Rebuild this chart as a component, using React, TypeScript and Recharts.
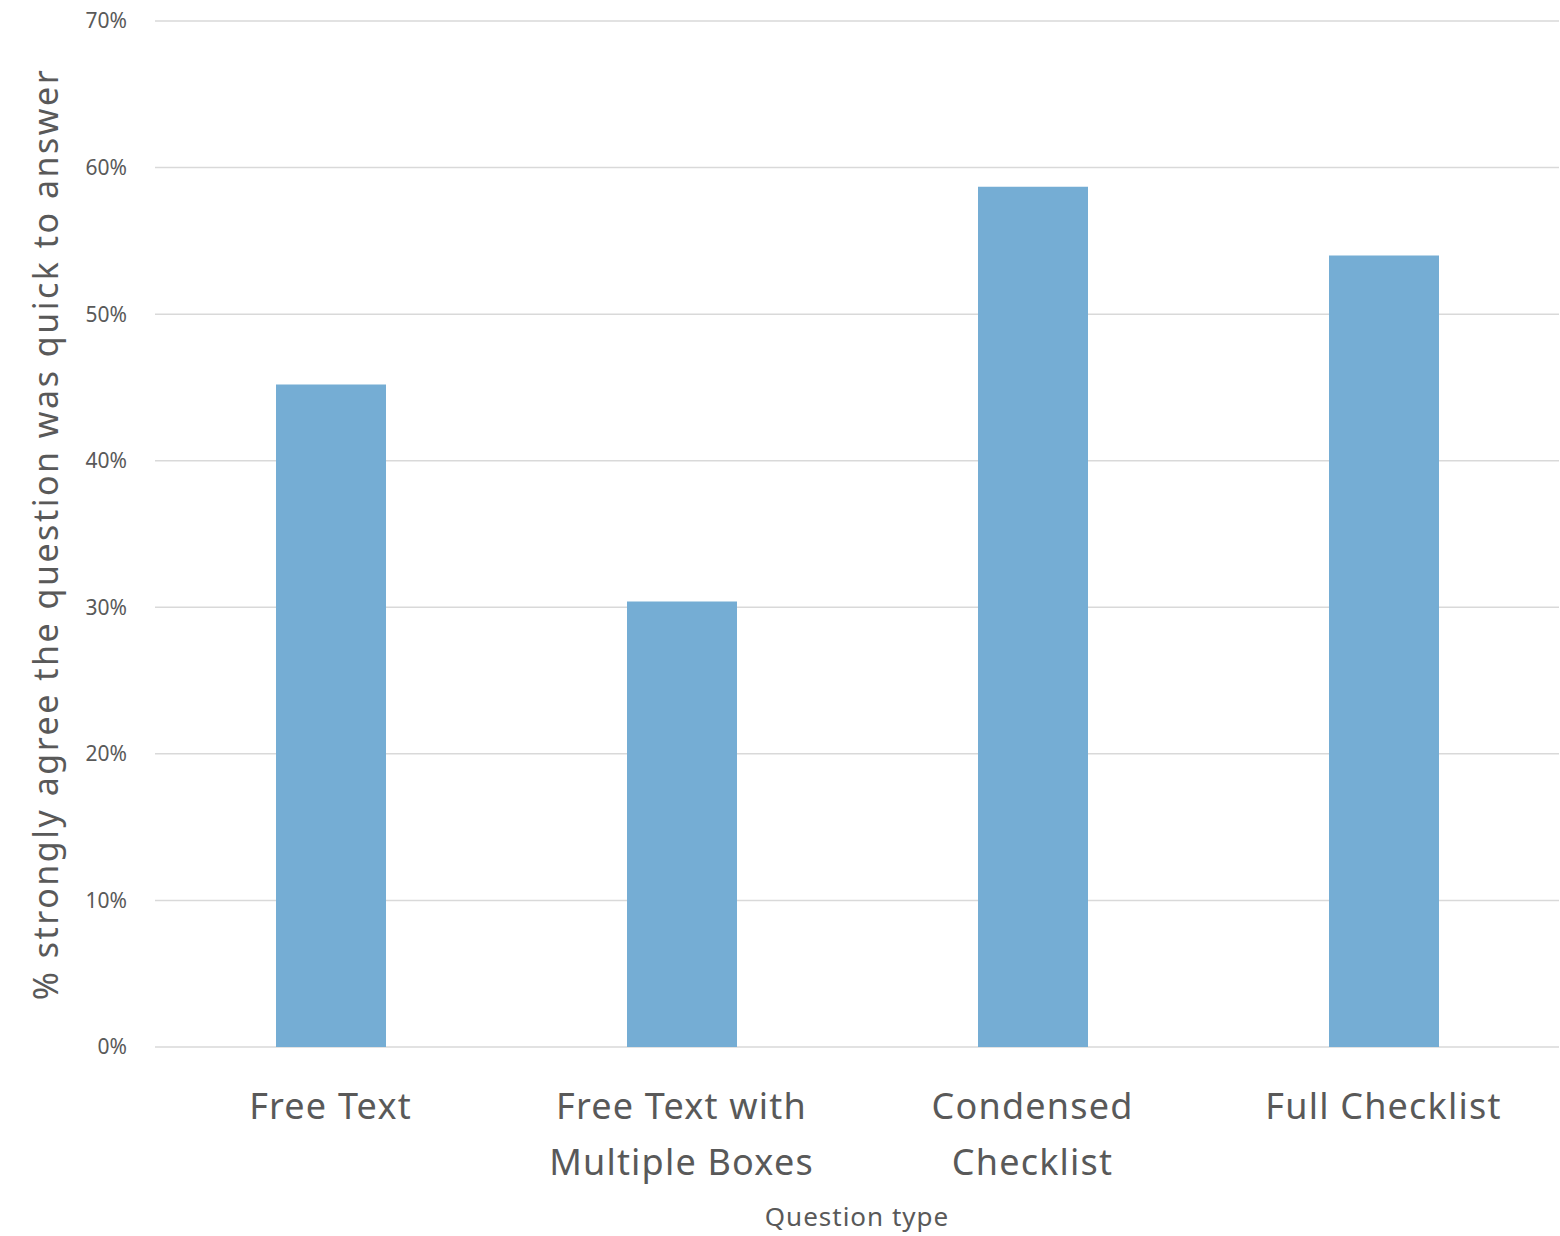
import React from "react";
import { BarChart, Bar, CartesianGrid, XAxis, YAxis } from "recharts";

const categories = ["Free Text", "Free Text with Multiple Boxes", "Condensed Checklist", "Full Checklist"];
const tickLines = [["Free Text"], ["Free Text with", "Multiple Boxes"], ["Condensed", "Checklist"], ["Full Checklist"]];
const quickToAnswer = [45.2, 30.4, 58.7, 54.0];
const yTicks = [0, 10, 20, 30, 40, 50, 60, 70];

const data = categories.map((name, i) => ({ name, value: quickToAnswer[i] }));

const FONT = "'Noto Sans', 'Open Sans', sans-serif";
const TEXT = "#595959";

const CategoryTick = (props: any) => {
  const { x, y, index } = props;
  const lines = tickLines[index] ?? [props.payload.value];
  return (
    <g>
      {lines.map((line: string, i: number) => (
        <text
          key={line}
          x={x}
          y={y + 64 + i * 56}
          textAnchor="middle"
          fill={TEXT}
          fontFamily={FONT}
          fontSize={36}
          letterSpacing={1.2}
        >
          {line}
        </text>
      ))}
    </g>
  );
};

export default function App() {
  return (
    <div style={{ position: "absolute", left: 0, top: 0, background: "#fff" }}>
      <BarChart width={1560} height={1236} data={data} margin={{ top: 21, right: 1, bottom: 0, left: 0 }}>
        <CartesianGrid vertical={false} stroke="#d9d9d9" strokeWidth={1.5} />
        <XAxis
          dataKey="name"
          height={189}
          axisLine={false}
          tickLine={false}
          interval={0}
          tick={<CategoryTick />}
          label={() => (
            <text
              x={857}
              y={1226}
              textAnchor="middle"
              fill={TEXT}
              fontFamily={FONT}
              fontSize={26}
              letterSpacing={1}
            >
              Question type
            </text>
          )}
        />
        <YAxis
          width={155}
          domain={[0, 70]}
          ticks={yTicks}
          interval={0}
          axisLine={false}
          tickLine={false}
          tickMargin={22}
          tickFormatter={(v: number) => `${v}%`}
          tick={{ fill: TEXT, fontSize: 21, fontFamily: FONT }}
          label={() => (
            <text
              x={58}
              y={534}
              transform="rotate(-90 58 534)"
              textAnchor="middle"
              fill={TEXT}
              fontFamily={FONT}
              fontSize={34}
              letterSpacing={2.5}
            >
              % strongly agree the question was quick to answer
            </text>
          )}
        />
        <Bar dataKey="value" fill="#75add4" barSize={110} isAnimationActive={false} />
      </BarChart>
    </div>
  );
}
